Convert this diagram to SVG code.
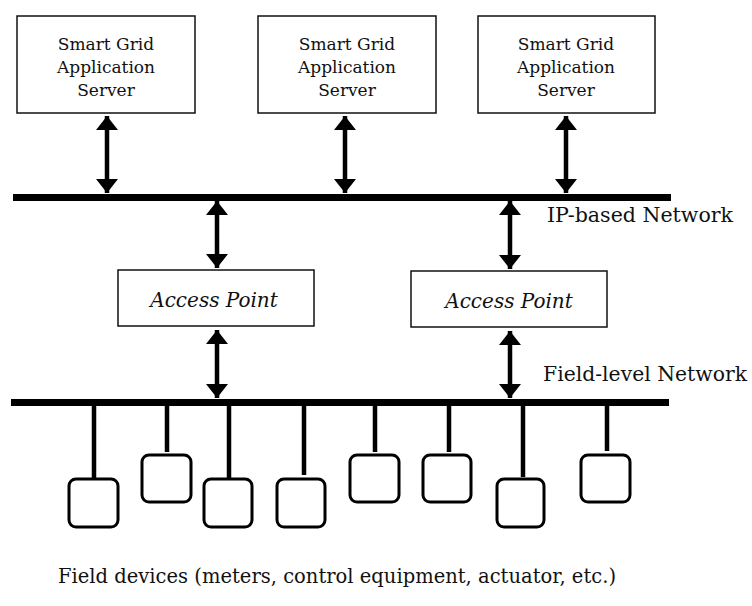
<svg xmlns="http://www.w3.org/2000/svg" width="752" height="606" viewBox="0 0 752 606">
<style>
.box{fill:#fff;stroke:#111;stroke-width:1.5}
.dev{fill:#fff;stroke:#000;stroke-width:3}
.t{font-family:"DejaVu Serif","Liberation Serif",serif;fill:#111;text-anchor:middle}
.srv{font-size:17px}
.ap{font-size:20px;font-style:italic}
.lbl{font-family:"DejaVu Serif","Liberation Serif",serif;fill:#111;font-size:20px}
.arr{stroke:#000;stroke-width:4.5;fill:none;marker-start:url(#ah);marker-end:url(#ah)}
.drop{stroke:#000;stroke-width:4.5}
.bus{fill:#000}
</style>
<defs>
<marker id="ah" markerUnits="userSpaceOnUse" markerWidth="15" markerHeight="22" refX="14" refY="11" orient="auto-start-reverse">
<path d="M0,0 L14,11 L0,22 z" fill="#000"/>
</marker>
</defs>
<rect width="752" height="606" fill="#fff"/>
<g id="server1">
<rect class="box" x="17" y="16" width="178" height="97"/>
<text class="t srv" x="106" y="50">Smart Grid</text>
<text class="t srv" x="106" y="73">Application</text>
<text class="t srv" x="106" y="96">Server</text>
</g>
<g id="server2">
<rect class="box" x="258" y="16" width="178" height="97"/>
<text class="t srv" x="347" y="50">Smart Grid</text>
<text class="t srv" x="347" y="73">Application</text>
<text class="t srv" x="347" y="96">Server</text>
</g>
<g id="server3">
<rect class="box" x="478" y="16" width="177" height="97"/>
<text class="t srv" x="566" y="50">Smart Grid</text>
<text class="t srv" x="566" y="73">Application</text>
<text class="t srv" x="566" y="96">Server</text>
</g>
<g id="ip-network">
<rect class="bus" x="13" y="194" width="658" height="7"/>
<text class="lbl" x="547" y="222" textLength="186" lengthAdjust="spacingAndGlyphs">IP-based Network</text>
</g>
<g id="ap1">
<rect class="box" x="118" y="270" width="196" height="56"/>
<text class="t ap" x="214" y="307">Access Point</text>
</g>
<g id="ap2">
<rect class="box" x="411" y="271" width="196" height="56"/>
<text class="t ap" x="509" y="308">Access Point</text>
</g>
<g id="field-network">
<rect class="bus" x="11" y="399" width="658" height="7"/>
<text class="lbl" x="543" y="381" textLength="204" lengthAdjust="spacingAndGlyphs">Field-level Network</text>
</g>
<g id="devices">
<rect class="dev" x="69" y="479" width="49" height="48" rx="7"/>
<rect class="dev" x="142" y="455" width="49" height="47" rx="7"/>
<rect class="dev" x="204" y="479" width="48" height="48" rx="7"/>
<rect class="dev" x="277" y="479" width="48" height="48" rx="7"/>
<rect class="dev" x="350" y="455" width="49" height="47" rx="7"/>
<rect class="dev" x="423" y="455" width="48" height="47" rx="7"/>
<rect class="dev" x="497" y="479" width="47" height="48" rx="7"/>
<rect class="dev" x="581" y="455" width="49" height="47" rx="7"/>
</g>
<g id="caption">
<text class="lbl" x="58" y="583" textLength="558" lengthAdjust="spacingAndGlyphs">Field devices (meters, control equipment, actuator, etc.)</text>
</g>
<g id="connectors">
<line class="arr" x1="107" y1="116" x2="107" y2="193"/>
<line class="arr" x1="345" y1="116" x2="345" y2="193"/>
<line class="arr" x1="566" y1="116" x2="566" y2="193"/>
<line class="arr" x1="217" y1="201" x2="217" y2="268"/>
<line class="arr" x1="510" y1="201" x2="510" y2="269"/>
<line class="arr" x1="217" y1="330" x2="217" y2="398"/>
<line class="arr" x1="510" y1="331" x2="510" y2="398"/>
<line class="drop" x1="94" y1="405" x2="94" y2="478"/>
<line class="drop" x1="167" y1="405" x2="167" y2="452"/>
<line class="drop" x1="229" y1="405" x2="229" y2="478"/>
<line class="drop" x1="304" y1="405" x2="304" y2="475"/>
<line class="drop" x1="375" y1="405" x2="375" y2="452"/>
<line class="drop" x1="449" y1="405" x2="449" y2="452"/>
<line class="drop" x1="523" y1="405" x2="523" y2="477"/>
<line class="drop" x1="607" y1="405" x2="607" y2="451"/>
</g>
</svg>
